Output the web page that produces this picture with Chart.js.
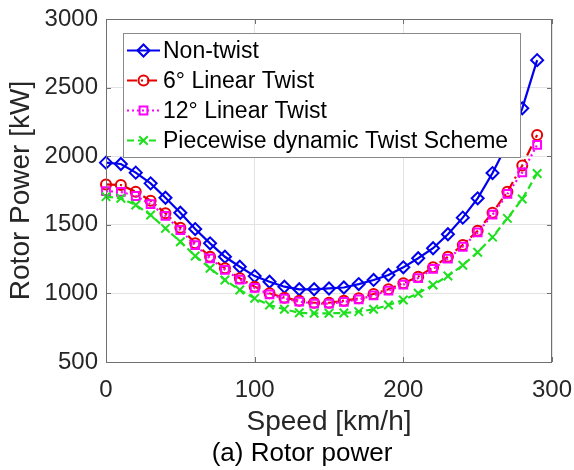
<!DOCTYPE html>
<html>
<head>
<meta charset="utf-8">
<script src="https://cdn.jsdelivr.net/npm/chart.js@4.4.1/dist/chart.umd.min.js"></script>
<style>
  html, body { margin: 0; padding: 0; background: #ffffff; }
  #wrap { width: 574px; height: 470px; }
</style>
</head>
<body>
<div id="wrap"><canvas id="chart" width="574" height="470"></canvas></div>
<script>
// Flight speed samples [km/h]
const speeds = [0, 10, 20, 30, 40, 50, 60, 70, 80, 90, 100, 110, 120, 130, 140,
                150, 160, 170, 180, 190, 200, 210, 220, 230, 240, 250, 260, 270, 280, 290];

// Rotor power [kW] for each blade twist configuration
const nonTwist = [1953, 1943, 1880, 1802, 1697, 1588, 1469, 1365, 1267, 1194, 1126, 1085, 1049, 1030, 1030,
                  1036, 1043, 1068, 1098, 1134, 1190, 1256, 1329, 1431, 1552, 1693, 1877, 2090, 2349, 2700];
const linearTwist6 = [1794, 1790, 1741, 1676, 1584, 1479, 1365, 1267, 1183, 1110, 1049, 1001, 969, 947, 932,
                      932, 947, 964, 996, 1030, 1074, 1122, 1190, 1267, 1353, 1457, 1588, 1741, 1932, 2155];
const linearTwist12 = [1745, 1740, 1710, 1650, 1565, 1462, 1352, 1255, 1172, 1100, 1040, 993, 962, 940, 926,
                       926, 938, 956, 986, 1020, 1064, 1112, 1178, 1254, 1340, 1444, 1574, 1725, 1882, 2082];
const piecewiseTwist = [1705, 1693, 1644, 1571, 1474, 1377, 1273, 1183, 1098, 1025, 964, 915, 884, 859, 855,
                        855, 857, 867, 884, 915, 952, 1001, 1061, 1127, 1205, 1300, 1410, 1547, 1688, 1874];

// Axis ticks
const xTicks = [0, 100, 200, 300];
const yTicks = [500, 1000, 1500, 2000, 2500, 3000];

const seriesLabels = ['Non-twist', '6\u00B0 Linear Twist', '12\u00B0 Linear Twist', 'Piecewise dynamic Twist Scheme'];

const FONT = '"Liberation Sans", Arial, Helvetica, sans-serif';
const AXIS_GREY = '#262626';

function toPoints(values) {
  return speeds.map((s, i) => ({ x: s, y: values[i] }));
}

function series(label, values, color, style, radius, dash, order) {
  return {
    label: label,
    data: toPoints(values),
    borderColor: color,
    backgroundColor: color,
    borderWidth: 2.2,
    borderDash: dash,
    pointStyle: style,
    pointRadius: radius,
    pointHoverRadius: radius,
    pointBorderWidth: 2,
    pointBorderColor: color,
    pointBackgroundColor: 'rgba(0,0,0,0)',
    tension: 0,
    fill: false,
    clip: 10,
    order: order
  };
}

// Box outline with inward tick marks on all four sides
const boxFrame = {
  id: 'boxFrame',
  afterDatasetsDraw(chart) {
    const { ctx, chartArea: a, scales } = chart;
    ctx.save();
    ctx.strokeStyle = '#707070';
    ctx.lineWidth = 1;
    ctx.setLineDash([]);
    ctx.strokeRect(Math.round(a.left) + 0.5, Math.round(a.top) + 0.5,
                   Math.round(a.right - a.left) - 1, Math.round(a.bottom - a.top));
    const tl = 5;
    ctx.beginPath();
    xTicks.forEach(v => {
      const px = Math.round(scales.x.getPixelForValue(v)) + 0.5;
      ctx.moveTo(px, a.bottom); ctx.lineTo(px, a.bottom - tl);
      ctx.moveTo(px, a.top); ctx.lineTo(px, a.top + tl);
    });
    yTicks.forEach(v => {
      const py = Math.round(scales.y.getPixelForValue(v)) + 0.5;
      ctx.moveTo(a.left, py); ctx.lineTo(a.left + tl, py);
      ctx.moveTo(a.right, py); ctx.lineTo(a.right - tl, py);
    });
    ctx.stroke();
    ctx.restore();
  }
};

function drawMarker(ctx, style, x, y, r) {
  ctx.beginPath();
  if (style === 'rectRot') {
    ctx.moveTo(x - r, y); ctx.lineTo(x, y - r); ctx.lineTo(x + r, y); ctx.lineTo(x, y + r); ctx.closePath();
  } else if (style === 'circle') {
    ctx.arc(x, y, r, 0, Math.PI * 2);
  } else if (style === 'rect') {
    const h = r * Math.SQRT1_2;
    ctx.rect(x - h, y - h, 2 * h, 2 * h);
  } else if (style === 'crossRot') {
    const h = r * Math.SQRT1_2;
    ctx.moveTo(x - h, y - h); ctx.lineTo(x + h, y + h);
    ctx.moveTo(x - h, y + h); ctx.lineTo(x + h, y - h);
  }
  ctx.stroke();
}

// Legend drawn inside the plot area, upper left
const insideLegend = {
  id: 'insideLegend',
  afterDatasetsDraw(chart) {
    const { ctx, chartArea: a } = chart;
    const x0 = a.left + 17, y0 = a.top + 14, w = 397, h = 124;
    ctx.save();
    ctx.fillStyle = '#ffffff';
    ctx.fillRect(x0, y0, w, h);
    ctx.strokeStyle = '#8a8a8a';
    ctx.lineWidth = 1;
    ctx.strokeRect(Math.round(x0) + 0.5, Math.round(y0) + 0.5, w, h);
    chart.data.datasets.forEach((ds, i) => {
      const cy = y0 + 17.5 + i * 30;
      ctx.strokeStyle = ds.borderColor;
      ctx.lineWidth = ds.borderWidth;
      ctx.setLineDash(ds.borderDash || []);
      ctx.beginPath();
      ctx.moveTo(x0 + 4, cy); ctx.lineTo(x0 + 37, cy);
      ctx.stroke();
      ctx.setLineDash([]);
      ctx.lineWidth = ds.pointBorderWidth;
      drawMarker(ctx, ds.pointStyle, x0 + 20.5, cy, ds.pointRadius);
      ctx.fillStyle = '#000000';
      ctx.font = '23px ' + FONT;
      ctx.textAlign = 'left';
      ctx.textBaseline = 'middle';
      ctx.fillText(ds.label, x0 + 40, cy + 1);
    });
    ctx.restore();
  }
};

// Figure caption under the x-axis title
const caption = {
  id: 'caption',
  afterDraw(chart) {
    const { ctx } = chart;
    ctx.save();
    ctx.fillStyle = '#000000';
    ctx.font = '26px ' + FONT;
    ctx.textAlign = 'center';
    ctx.textBaseline = 'middle';
    ctx.fillText('(a) Rotor power', 302, 454);
    ctx.restore();
  }
};

new Chart(document.getElementById('chart'), {
  type: 'line',
  data: {
    datasets: [
      series(seriesLabels[0], nonTwist, '#0000ee', 'rectRot', 6, [], 4),
      series(seriesLabels[1], linearTwist6, '#e60000', 'circle', 5, [10, 4, 2, 4], 3),
      series(seriesLabels[2], linearTwist12, '#ff00ff', 'rect', 5.5, [2, 3], 2),
      series(seriesLabels[3], piecewiseTwist, '#1fe01f', 'crossRot', 6, [7, 4], 1)
    ]
  },
  options: {
    responsive: false,
    animation: false,
    devicePixelRatio: 1,
    layout: { padding: { top: 19, right: 22, bottom: 0, left: 0 } },
    plugins: {
      legend: { display: false },
      tooltip: { enabled: false },
      title: { display: false }
    },
    scales: {
      x: {
        type: 'linear',
        min: 0,
        max: 300,
        afterBuildTicks(scale) { scale.ticks = xTicks.map(v => ({ value: v })); },
        afterFit(scale) {
          scale.height = 108;
          scale.paddingLeft = 0;
          scale.paddingRight = 0;
        },
        ticks: {
          color: AXIS_GREY,
          font: { family: FONT, size: 24 },
          padding: 14,
          maxRotation: 0,
          callback: v => String(v)
        },
        grid: { color: '#e3e3e3', lineWidth: 1, drawTicks: false },
        border: { display: false },
        title: {
          display: true,
          text: 'Speed [km/h]',
          color: AXIS_GREY,
          font: { family: FONT, size: 28 },
          padding: { top: 0, bottom: 31 }
        }
      },
      y: {
        type: 'linear',
        min: 500,
        max: 3000,
        afterBuildTicks(scale) { scale.ticks = yTicks.map(v => ({ value: v })); },
        afterFit(scale) {
          scale.width = 106;
          scale.paddingTop = 0;
          scale.paddingBottom = 0;
        },
        ticks: {
          color: AXIS_GREY,
          font: { family: FONT, size: 24 },
          padding: 8,
          callback: v => String(v)
        },
        grid: { color: '#e3e3e3', lineWidth: 1, drawTicks: false },
        border: { display: false },
        title: {
          display: true,
          text: 'Rotor Power [kW]',
          color: AXIS_GREY,
          font: { family: FONT, size: 28 },
          padding: { top: 4, bottom: 0 }
        }
      }
    }
  },
  plugins: [boxFrame, insideLegend, caption]
});
</script>
</body>
</html>
